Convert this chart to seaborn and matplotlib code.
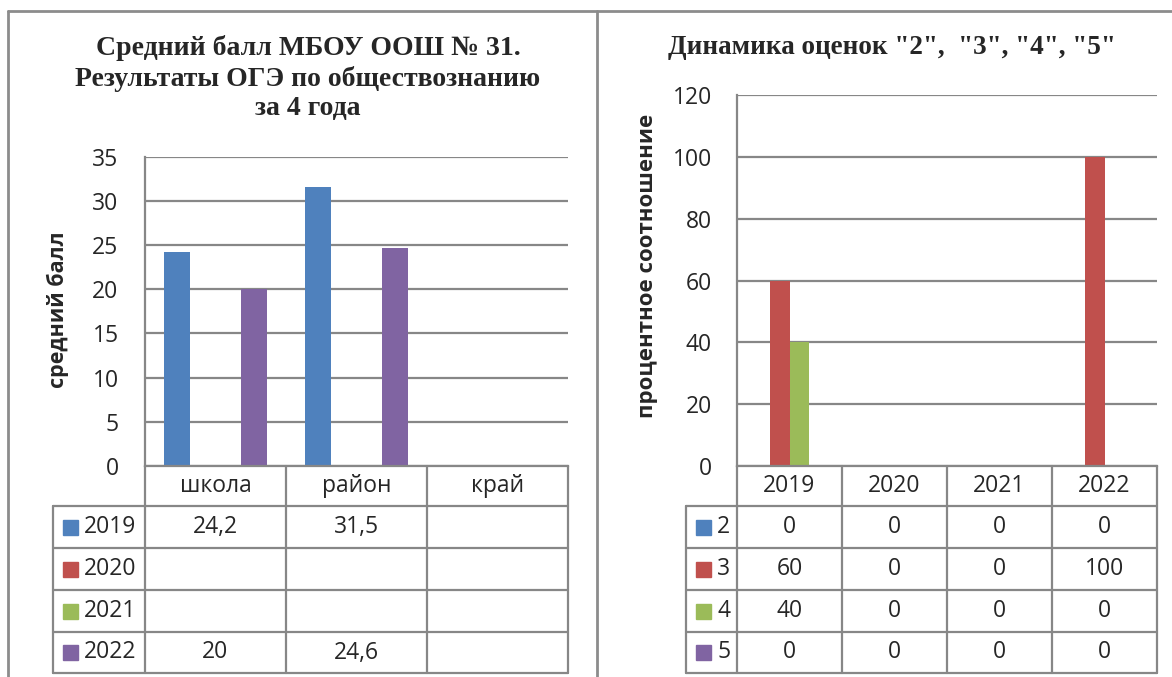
import numpy as np
import pandas as pd
import matplotlib
matplotlib.use("Agg")
import matplotlib.pyplot as plt
import seaborn as sns
from matplotlib.lines import Line2D
from matplotlib.patches import Rectangle

# ---------------- data ----------------
left_categories = ["школа", "район", "край"]
left_years = ["2019", "2020", "2021", "2022"]
left_2019 = [24.2, 31.5, np.nan]
left_2020 = [np.nan, np.nan, np.nan]
left_2021 = [np.nan, np.nan, np.nan]
left_2022 = [20, 24.6, np.nan]

right_years = ["2019", "2020", "2021", "2022"]
right_grades = ["2", "3", "4", "5"]
grade_2 = [0, 0, 0, 0]
grade_3 = [60, 0, 0, 100]
grade_4 = [40, 0, 0, 0]
grade_5 = [0, 0, 0, 0]

left_title = "Средний балл МБОУ ООШ № 31.\nРезультаты ОГЭ по обществознанию\nза 4 года"
right_title = "Динамика оценок \"2\",  \"3\", \"4\", \"5\""
left_ylabel = "средний балл"
right_ylabel = "процентное соотношение"

colors = ["#4F81BD", "#C0504D", "#9BBB59", "#8064A2"]

# ---------------- setup ----------------
sns.set_theme(style="white")
plt.rcParams["font.family"] = ["Open Sans", "DejaVu Sans"]

W, H = 1172, 677
fig = plt.figure(figsize=(W / 100, H / 100), dpi=100)
GRID = "#878787"
TICK_FS = 16.5
TABLE_FS = 16.5


def px_axes(x0, x1, ytop, ybot):
    return fig.add_axes([x0 / W, (H - ybot) / H, (x1 - x0) / W, (ybot - ytop) / H])


def fmt(v):
    if v is None or (isinstance(v, float) and np.isnan(v)):
        return ""
    if float(v).is_integer():
        return str(int(v))
    return str(v).replace(".", ",")


def draw_chart(ax, cats, series_names, series_vals, ymax, ystep, x0, x1, ytop, ybot,
               leg_left, tick_pad):
    rows = []
    for name, vals in zip(series_names, series_vals):
        for c, v in zip(cats, vals):
            rows.append({"cat": c, "series": name, "val": v})
    df = pd.DataFrame(rows)
    sns.barplot(data=df, x="cat", y="val", hue="series", order=cats,
                hue_order=series_names, palette=colors, width=4 / 5.5,
                saturation=1, legend=False, ax=ax, linewidth=0, errorbar=None)
    n = len(cats)
    ax.set_xlim(-0.5, n - 0.5)
    ax.set_ylim(0, ymax)
    ax.set_yticks(np.arange(0, ymax + 0.1, ystep))
    ax.set_yticklabels([str(int(t)) for t in np.arange(0, ymax + 0.1, ystep)],
                       fontsize=TICK_FS)
    ax.tick_params(axis="y", length=0, pad=tick_pad)
    ax.set_xticks([])
    ax.set_xlabel("")
    ax.set_ylabel("")
    ax.yaxis.grid(True, color=GRID, lw=1.6)
    ax.set_axisbelow(True)
    for s in ["top", "right"]:
        ax.spines[s].set_visible(False)
    for s in ["left", "bottom"]:
        ax.spines[s].set_color(GRID)
        ax.spines[s].set_linewidth(1.6)

    # ---- data table below the axis (pixel layout) ----
    col_w = (x1 - x0) / n
    row_edges = [ybot, ybot + 40, ybot + 82, ybot + 124, ybot + 166, ybot + 207]
    lw = 1.6

    def hline(xa, xb, y):
        fig.add_artist(Line2D([xa / W, xb / W], [(H - y) / H, (H - y) / H],
                              color=GRID, lw=lw, transform=fig.transFigure))

    def vline(x, ya, yb):
        fig.add_artist(Line2D([x / W, x / W], [(H - ya) / H, (H - yb) / H],
                              color=GRID, lw=lw, transform=fig.transFigure))

    for y in row_edges[1:]:
        hline(leg_left, x1, y)
    vline(leg_left, row_edges[1], row_edges[-1])
    for i in range(n + 1):
        vline(x0 + i * col_w, row_edges[0], row_edges[-1])
    # header labels
    hc = (row_edges[0] + row_edges[1]) / 2
    for i, c in enumerate(cats):
        fig.text((x0 + (i + 0.5) * col_w) / W, (H - hc) / H, c, ha="center",
                 va="center", fontsize=TABLE_FS)
    # series rows
    for r, (name, vals) in enumerate(zip(series_names, series_vals)):
        yc = (row_edges[r + 1] + row_edges[r + 2]) / 2
        sq = 15
        fig.add_artist(Rectangle(((leg_left + 10) / W, (H - yc - sq / 2) / H),
                                 sq / W, sq / H, color=colors[r],
                                 transform=fig.transFigure))
        fig.text((leg_left + 31) / W, (H - yc) / H, name, ha="left", va="center",
                 fontsize=TABLE_FS)
        for i, v in enumerate(vals):
            fig.text((x0 + (i + 0.5) * col_w) / W, (H - yc) / H, fmt(v),
                     ha="center", va="center", fontsize=TABLE_FS)


# left chart
axL = px_axes(145, 568, 156.5, 466)
draw_chart(axL, left_categories, left_years,
           [left_2019, left_2020, left_2021, left_2022], 35, 5,
           145, 568, 156.5, 466, 53, 19)

# right chart
axR = px_axes(737, 1157, 95, 466)
draw_chart(axR, right_years, right_grades,
           [grade_2, grade_3, grade_4, grade_5], 120, 20,
           737, 1157, 95, 466, 686, 18)

# titles
fig.text(308 / W, (H - 78) / H, left_title, ha="center", va="center",
         fontsize=20, fontweight="bold", family="Liberation Serif", linespacing=1.22)
fig.text(892 / W, (H - 47) / H, right_title, ha="center", va="center",
         fontsize=19.5, fontweight="bold", family="Liberation Serif")

# y labels
fig.text(58 / W, (H - 310) / H, left_ylabel, rotation=90, ha="center", va="center",
         fontsize=15.5, fontweight="bold")
fig.text(648 / W, (H - 266) / H, right_ylabel, rotation=90, ha="center", va="center",
         fontsize=16, fontweight="bold")

# outer frames
frame_c = "#8c8c8c"
fig.add_artist(Line2D([8 / W, 1], [(H - 11) / H, (H - 11) / H], color=frame_c, lw=2,
                      transform=fig.transFigure))
fig.add_artist(Line2D([8 / W, 8 / W], [0, (H - 11) / H], color=frame_c, lw=2,
                      transform=fig.transFigure))
fig.add_artist(Line2D([597 / W, 597 / W], [0, (H - 11) / H], color=frame_c, lw=2,
                      transform=fig.transFigure))

fig.savefig("out.png", dpi=100, facecolor="white")
